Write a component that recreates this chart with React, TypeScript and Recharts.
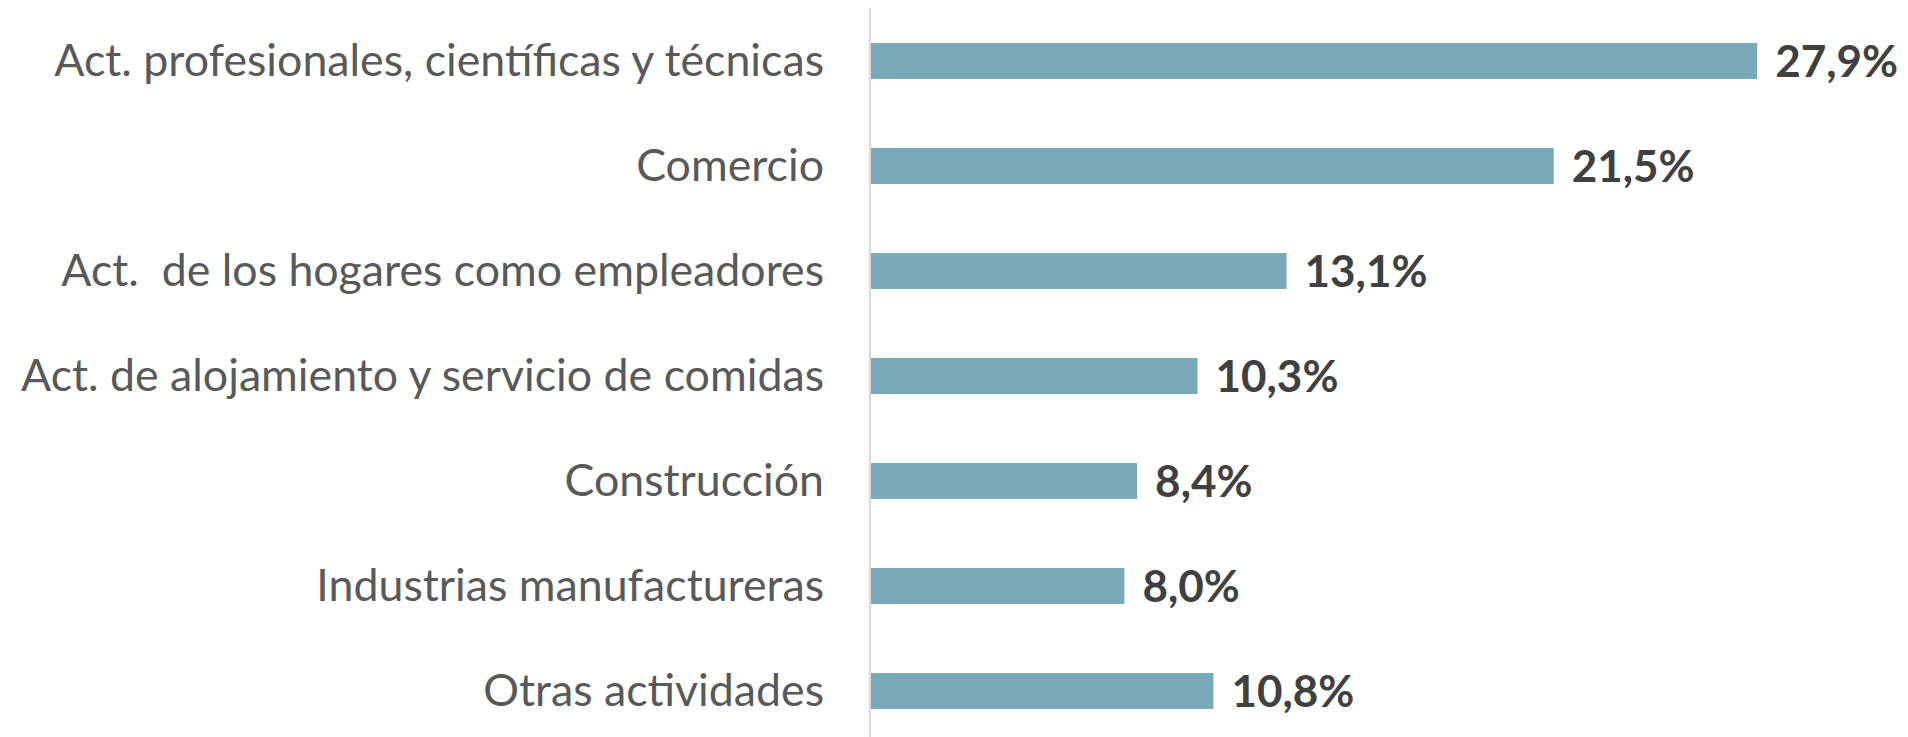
import { Bar, BarChart, LabelList, XAxis, YAxis } from "recharts";

const categories = [
  "Act. profesionales, científicas y técnicas",
  "Comercio",
  "Act.\u00a0 de los hogares como empleadores",
  "Act. de alojamiento y servicio de comidas",
  "Construcción",
  "Industrias manufactureras",
  "Otras actividades",
];

const shares = [27.9, 21.5, 13.1, 10.3, 8.4, 8.0, 10.8];

const data = categories.map((name, i) => ({ name, value: shares[i] }));

// values are shown with a decimal comma, Spanish style
const fmt = (v: number) => `${v.toFixed(1).replace(".", ",")}%`;

export default function App() {
  return (
    <div style={{ width: 1900, height: 740 }}>
      <BarChart
        width={1900}
        height={740}
        data={data}
        layout="vertical"
        margin={{ top: 0, right: 84, bottom: 5, left: 0 }}
      >
        <XAxis type="number" domain={[0, 30]} hide />
        <YAxis
          type="category"
          dataKey="name"
          width={862}
          axisLine={{ stroke: "#d9d9d9", strokeWidth: 2 }}
          tickLine={false}
          tickSize={0}
          tickMargin={46}
          tick={{ fill: "#595959", fontSize: 44.7, fontFamily: "Lato" }}
          interval={0}
        />
        <Bar dataKey="value" fill="#7aaab8" barSize={36} isAnimationActive={false}>
          <LabelList
            dataKey="value"
            position="right"
            offset={18}
            formatter={(v: number) => fmt(v)}
            style={{ fill: "#404040", fontSize: 44, fontWeight: 700, fontFamily: "Lato" }}
          />
        </Bar>
      </BarChart>
    </div>
  );
}
